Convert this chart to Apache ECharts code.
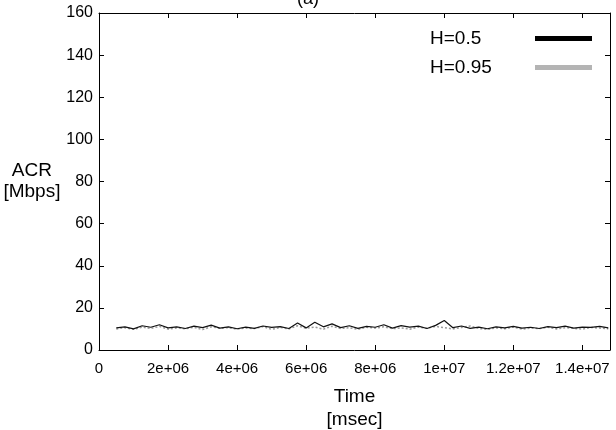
<!DOCTYPE html>
<html>
<head>
<meta charset="utf-8">
<script src="https://cdn.jsdelivr.net/npm/echarts@6/dist/echarts.min.js"></script>
<style>
  html, body { margin: 0; padding: 0; background: #fff; }
  #chart { width: 616px; height: 430px; }
</style>
</head>
<body>
<div id="chart"></div>
<script>
// time samples [msec]
var timeMs = [5e5, 7.5e5, 1e6, 1.25e6, 1.5e6, 1.75e6, 2e6, 2.25e6, 2.5e6, 2.75e6,
    3e6, 3.25e6, 3.5e6, 3.75e6, 4e6, 4.25e6, 4.5e6, 4.75e6, 5e6, 5.25e6,
    5.5e6, 5.75e6, 6e6, 6.25e6, 6.5e6, 6.75e6, 7e6, 7.25e6, 7.5e6, 7.75e6,
    8e6, 8.25e6, 8.5e6, 8.75e6, 9e6, 9.25e6, 9.5e6, 9.75e6, 1e7, 1.025e7,
    1.05e7, 1.075e7, 1.1e7, 1.125e7, 1.15e7, 1.175e7, 1.2e7, 1.225e7, 1.25e7, 1.275e7,
    1.3e7, 1.325e7, 1.35e7, 1.375e7, 1.4e7, 1.425e7, 1.45e7, 1.475e7];
// ACR [Mbps]
var acrH05 = [10.5, 11, 10, 11.5, 10.8, 12, 10.5, 11, 10.2, 11.3,
    10.6, 11.8, 10.4, 11, 10.1, 10.9, 10.3, 11.4, 10.7, 11.1,
    10.2, 12.8, 10.5, 13.2, 11, 12.4, 10.6, 11.5, 10.3, 11.2,
    10.8, 12, 10.4, 11.6, 10.9, 11.3, 10.2, 11.7, 14, 10.6,
    11.4, 10.3, 10.9, 10.1, 11, 10.5, 11.2, 10.4, 10.8, 10.2,
    11.1, 10.6, 11.3, 10.4, 10.9, 10.7, 11.2, 10.5];
var acrH095 = [10, 10.6, 9.8, 10.9, 10.2, 11.2, 9.9, 10.5, 10.1, 10.8,
    9.7, 11, 10.3, 10.6, 9.9, 10.4, 10.2, 11.1, 9.8, 10.7,
    10, 11.5, 10.3, 10.9, 9.9, 11.3, 10.2, 10.6, 9.8, 10.8,
    10.4, 11, 10.1, 10.5, 9.9, 10.9, 10.3, 11.2, 10.6, 10,
    10.7, 11.4, 10.2, 9.8, 10.5, 10.1, 10.9, 9.9, 10.4, 10.2,
    10.8, 10, 10.6, 10.3, 9.9, 10.7, 10.4, 10.1];
var seriesNames = ['H=0.5', 'H=0.95'];

function pairs(vals) {
    return vals.map(function (v, i) { return [timeMs[i], v]; });
}

var font = 'Liberation Sans, Arial, sans-serif';
var xMax = 1.48e7;

var axisCommon = {
    axisLine: { show: true, onZero: false, lineStyle: { color: '#000', width: 1 } },
    axisTick: { show: true, inside: true, length: 5, lineStyle: { color: '#000' } },
    splitLine: { show: false }
};

var option = {
    backgroundColor: '#fff',
    animation: false,
    title: {
        text: '(a)', left: 'center', top: -15,
        textStyle: { fontFamily: font, fontSize: 18, fontWeight: 'normal', color: '#000' }
    },
    grid: { left: 99, right: 6, top: 13, bottom: 80, outerBoundsMode: 'none', containLabel: false },
    legend: {
        orient: 'vertical', right: 19, top: 24, align: 'right', itemGap: 10,
        itemWidth: 57, itemHeight: 5,
        formatter: '{a|{name}}',
        textStyle: {
            fontFamily: font, fontSize: 19, color: '#000',
            rich: { a: { width: 100, align: 'left', fontFamily: font, fontSize: 19, color: '#000' } }
        },
        data: [
            { name: seriesNames[0], icon: 'rect', itemStyle: { color: '#000' } },
            { name: seriesNames[1], icon: 'rect', itemStyle: { color: '#b4b4b4' } }
        ]
    },
    xAxis: [
        Object.assign({
            type: 'value', min: 0, max: xMax, interval: 2e6, position: 'bottom',
            name: 'Time\n[msec]', nameLocation: 'middle', nameGap: 35,
            nameTextStyle: { fontFamily: font, fontSize: 19, color: '#000', lineHeight: 23 },
            axisLabel: {
                fontFamily: font, fontSize: 15, color: '#000', margin: 11,
                showMaxLabel: false,
                formatter: function (v) {
                    if (v === 0) return '0';
                    var e = Math.floor(Math.log10(v));
                    var m = +(v / Math.pow(10, e)).toFixed(2);
                    return m + 'e+' + (e < 10 ? '0' + e : e);
                }
            }
        }, axisCommon),
        Object.assign({
            type: 'value', min: 0, max: xMax, interval: 2e6, position: 'top',
            axisLabel: { show: false }
        }, axisCommon)
    ],
    yAxis: [
        Object.assign({
            type: 'value', min: 0, max: 160, interval: 20, position: 'left',
            name: 'ACR\n[Mbps]', nameLocation: 'middle', nameGap: 66, nameRotate: 0,
            nameTextStyle: {
                fontFamily: font, fontSize: 19, color: '#000', lineHeight: 21,
                align: 'center', verticalAlign: 'middle', padding: [30, 0, 0, 0]
            },
            axisLabel: { fontFamily: font, fontSize: 16, color: '#000', margin: 6 }
        }, axisCommon),
        Object.assign({
            type: 'value', min: 0, max: 160, interval: 20, position: 'right',
            axisLabel: { show: false }
        }, axisCommon)
    ],
    series: [
        {
            name: seriesNames[1], type: 'line', symbol: 'none', data: pairs(acrH095),
            lineStyle: { color: '#9a9a9a', width: 1.5, type: [2, 2] },
            itemStyle: { color: '#9a9a9a' }
        },
        {
            name: seriesNames[0], type: 'line', symbol: 'none', data: pairs(acrH05),
            lineStyle: { color: '#111', width: 1.2 },
            itemStyle: { color: '#111' }
        }
    ]
};

var myChart = echarts.init(document.getElementById('chart'));
myChart.setOption(option);
</script>
</body>
</html>
